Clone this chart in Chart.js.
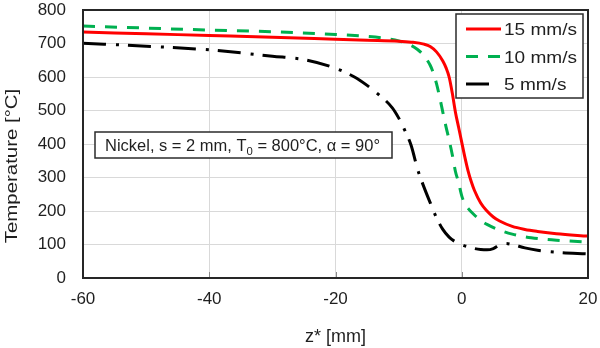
<!DOCTYPE html>
<html>
<head>
<meta charset="utf-8">
<script src="https://cdn.jsdelivr.net/npm/chart.js@4.4.1/dist/chart.umd.min.js"></script>
<style>
  html, body { margin: 0; padding: 0; background: #ffffff; }
  #wrap { width: 600px; height: 348px; position: relative; }
</style>
</head>
<body>
<div id="wrap"><canvas id="chart"></canvas></div>
<script>
// Temperature profiles along z* for three travel speeds
const zFast = [-60, -50, -40, -30, -20, -15, -10, -8, -6, -5, -4, -3, -2.5, -2, -1.5, -1, -0.5, 0, 0.5, 1, 1.5, 2, 3, 4, 5, 6, 8, 10, 12, 15, 20];
const tFast = [734, 729, 724, 719, 713, 710, 707, 704, 698, 691, 675, 648, 628, 600, 552, 495, 450, 405, 360, 320, 288, 262, 224, 200, 182, 170, 154, 145, 139, 132, 125];

const zMid = [-60, -50, -40, -30, -20, -15, -12, -10, -8, -7, -6, -5, -4.5, -4, -3.5, -3, -2.5, -2, -1.5, -1, -0.5, 0, 0.5, 1, 2, 3, 4, 6, 8, 11, 15, 20];
const tMid = [752, 746, 740, 735, 727, 721, 715, 708, 694, 682, 664, 635, 612, 580, 540, 495, 452, 412, 368, 318, 285, 245, 222, 208, 188, 172, 160, 143, 131, 120, 113, 107];

const zSlow = [-60, -50, -40, -30, -25, -20, -17, -15, -13, -11, -10, -9, -8, -7, -6, -5, -4, -3, -2, -1, 0, 1, 2, 3, 4, 5, 6, 7, 8, 10, 12, 15, 20];
const tSlow = [701, 692, 681, 662, 652, 626, 600, 575, 545, 508, 478, 440, 395, 325, 272, 225, 180, 145, 122, 108, 99, 93, 88, 85, 84, 88, 99, 103, 100, 90, 83, 77, 72];

const seriesLabels = ['15 mm/s', '10 mm/s', '5 mm/s'];
const xTicks = [-60, -40, -20, 0, 20];
const yTicks = [0, 100, 200, 300, 400, 500, 600, 700, 800];
const xTitle = 'z* [mm]';
const yTitle = 'Temperature [°C]';
const noteBefore = 'Nickel, s = 2 mm, T';
const noteSub = '0';
const noteAfter = ' = 800°C, α = 90°';

const FONT = '"Liberation Sans", Arial, sans-serif';
const TEXT = '#1f1f1f';

const toPoints = (xs, ys) => xs.map((v, i) => ({ x: v, y: ys[i] }));

// Frame, axis title, legend box and the note box
const decorations = {
  id: 'decorations',
  afterDatasetsDraw(chart) {
    const { ctx, chartArea: a, scales: { x } } = chart;
    ctx.save();

    // short inner ticks on the z axis
    ctx.strokeStyle = '#8a8a8a';
    ctx.lineWidth = 1;
    xTicks.slice(1, -1).forEach(v => {
      const px = Math.round(x.getPixelForValue(v)) + 0.5;
      ctx.beginPath();
      ctx.moveTo(px, a.bottom);
      ctx.lineTo(px, a.bottom - 6);
      ctx.stroke();
    });

    // plot frame
    ctx.strokeStyle = '#262626';
    ctx.lineWidth = 2;
    ctx.strokeRect(a.left, a.top, a.right - a.left, a.bottom - a.top);

    // vertical axis title
    ctx.save();
    ctx.fillStyle = TEXT;
    ctx.font = `17px ${FONT}`;
    ctx.textAlign = 'center';
    ctx.textBaseline = 'middle';
    ctx.translate(12, (a.top + a.bottom) / 2 + 22);
    ctx.rotate(-Math.PI / 2);
    ctx.scale(1.2, 1);
    ctx.fillText(yTitle, 0, 0);
    ctx.restore();

    // legend box
    const lx = a.right - 132, ly = a.top + 4, lw = 127, lh = 84;
    ctx.fillStyle = '#ffffff';
    ctx.fillRect(lx, ly, lw, lh);
    ctx.strokeStyle = '#2b2b2b';
    ctx.lineWidth = 1.5;
    ctx.strokeRect(lx, ly, lw, lh);
    chart.data.datasets.forEach((ds, i) => {
      const rowY = ly + 15 + i * 27.5;
      ctx.save();
      ctx.strokeStyle = ds.borderColor;
      ctx.lineWidth = ds.borderWidth;
      ctx.setLineDash(ds.borderDash || []);
      ctx.beginPath();
      ctx.moveTo(lx + 10, rowY);
      ctx.lineTo(lx + (i === 2 ? 35 : 45), rowY);
      ctx.stroke();
      ctx.restore();
      ctx.save();
      ctx.fillStyle = TEXT;
      ctx.font = `17px ${FONT}`;
      ctx.textAlign = 'left';
      ctx.textBaseline = 'alphabetic';
      ctx.translate(lx + 48, rowY + 6);
      ctx.scale(1.12, 1);
      ctx.fillText(ds.label, 0, 0);
      ctx.restore();
    });

    // note box
    const nx = a.left + 12, ny = 132, nw = 297, nh = 26;
    ctx.fillStyle = '#ffffff';
    ctx.fillRect(nx, ny, nw, nh);
    ctx.strokeStyle = '#2b2b2b';
    ctx.lineWidth = 1.5;
    ctx.strokeRect(nx, ny, nw, nh);
    ctx.save();
    ctx.fillStyle = TEXT;
    ctx.textAlign = 'left';
    ctx.textBaseline = 'alphabetic';
    ctx.font = `16px ${FONT}`;
    const w1 = ctx.measureText(noteBefore).width;
    ctx.font = `11px ${FONT}`;
    const w2 = ctx.measureText(noteSub).width;
    ctx.font = `16px ${FONT}`;
    const w3 = ctx.measureText(noteAfter).width;
    const sx = 275 / (w1 + w2 + w3);
    ctx.translate(nx + 10, ny + 19);
    ctx.scale(sx, 1);
    ctx.fillText(noteBefore, 0, 0);
    ctx.font = `11px ${FONT}`;
    ctx.fillText(noteSub, w1, 4);
    ctx.font = `16px ${FONT}`;
    ctx.fillText(noteAfter, w1 + w2, 0);
    ctx.restore();

    ctx.restore();
  }
};

new Chart(document.getElementById('chart'), {
  type: 'line',
  data: {
    datasets: [
      {
        label: seriesLabels[0],
        data: toPoints(zFast, tFast),
        borderColor: '#ff0000',
        borderWidth: 3,
        borderDash: [],
        cubicInterpolationMode: 'monotone',
        pointRadius: 0
      },
      {
        label: seriesLabels[1],
        data: toPoints(zMid, tMid),
        borderColor: '#00b050',
        borderWidth: 3,
        borderDash: [12, 10],
        cubicInterpolationMode: 'monotone',
        pointRadius: 0
      },
      {
        label: seriesLabels[2],
        data: toPoints(zSlow, tSlow),
        borderColor: '#000000',
        borderWidth: 3,
        borderDash: [23, 10, 3, 9],
        cubicInterpolationMode: 'monotone',
        pointRadius: 0
      }
    ]
  },
  options: {
    responsive: true,
    maintainAspectRatio: false,
    animation: false,
    events: [],
    layout: { padding: { left: 0, right: 12, top: 10, bottom: 0 } },
    plugins: {
      legend: { display: false },
      tooltip: { enabled: false }
    },
    scales: {
      x: {
        type: 'linear',
        min: xTicks[0],
        max: xTicks[xTicks.length - 1],
        afterFit: s => { s.height = 70; s.paddingLeft = 0; s.paddingRight = 0; },
        afterBuildTicks: s => { s.ticks = xTicks.map(v => ({ value: v })); },
        ticks: { color: TEXT, font: { family: FONT, size: 17 }, padding: 11, maxRotation: 0 },
        grid: { color: '#d9d9d9', lineWidth: 1, drawTicks: false },
        border: { display: false },
        title: { display: true, text: xTitle, color: TEXT, font: { family: FONT, size: 18 }, padding: { top: 0, bottom: 0 } }
      },
      y: {
        min: yTicks[0],
        max: yTicks[yTicks.length - 1],
        afterFit: s => { s.width = 83; s.paddingTop = 0; s.paddingBottom = 0; },
        afterBuildTicks: s => { s.ticks = yTicks.map(v => ({ value: v })); },
        ticks: { color: TEXT, font: { family: FONT, size: 17 }, padding: 17 },
        grid: { color: '#d9d9d9', lineWidth: 1, drawTicks: false },
        border: { display: false }
      }
    }
  },
  plugins: [decorations]
});
</script>
</body>
</html>
